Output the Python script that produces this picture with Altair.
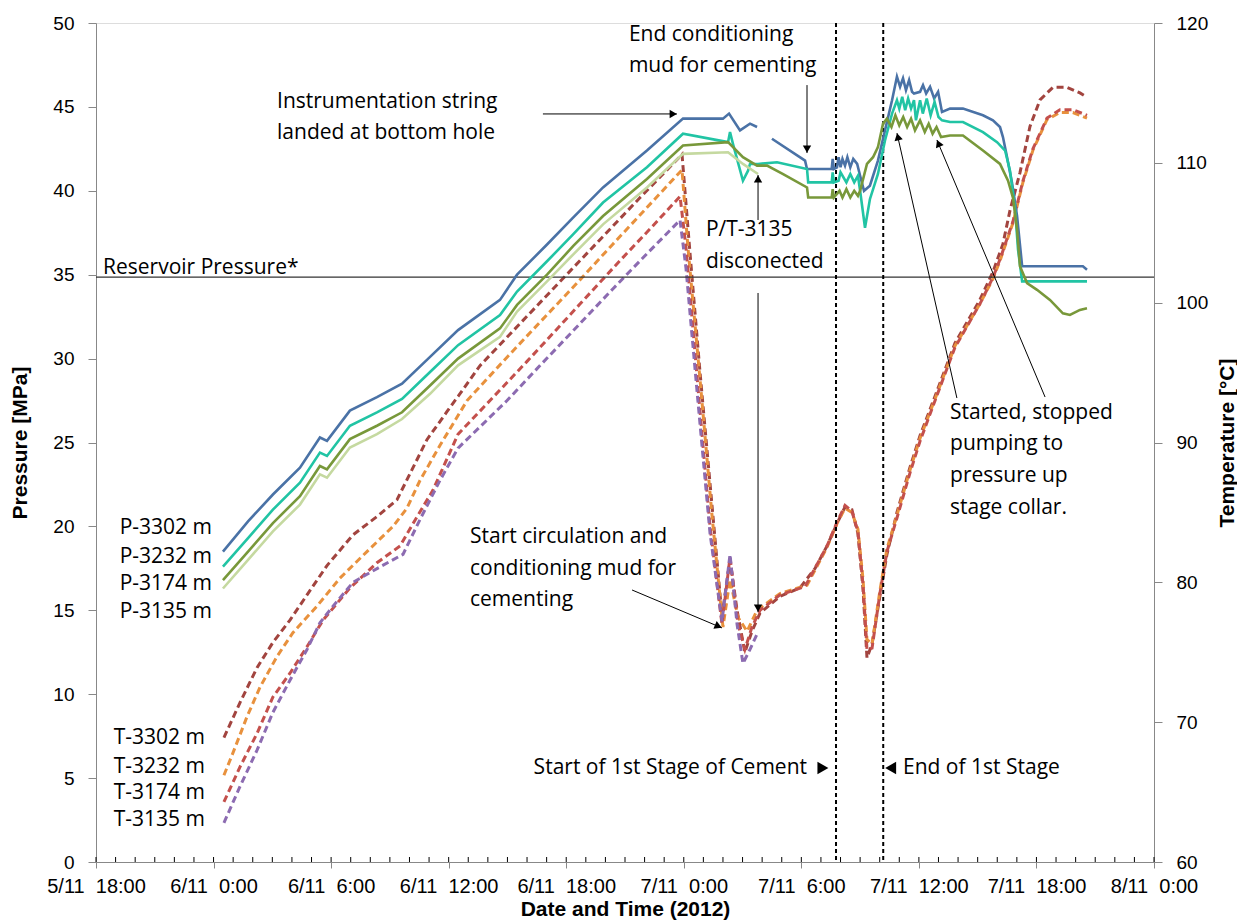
import altair as alt
import pandas as pd

# x values are hours since 5/11 18:00 (2012)
X_TICKS = list(range(0, 55, 6))
X_MINOR = list(range(0, 55, 1))
P_TICKS = list(range(0, 51, 5))
T_TICKS = list(range(60, 121, 10))

P_SERIES = ["P-3302 m", "P-3232 m", "P-3174 m", "P-3135 m"]
T_SERIES = ["T-3302 m", "T-3232 m", "T-3174 m", "T-3135 m"]
SERIES_COLORS = ["#4A72A6", "#21C4A4", "#78983A", "#C5D9A0",
                 "#A2443F", "#E8913D", "#C4504C", "#8C6BB1"]

# ---- pressure series (hours, MPa) ----
P3302_A = [(6.48, 18.5), (7.76, 20.3), (9.03, 21.9), (10.41, 23.5), (11.43, 25.3), (11.79, 25.1),
           (12.96, 26.9), (14.34, 27.7), (15.62, 28.5), (17.05, 30.1), (18.48, 31.7), (20.62, 33.5),
           (21.49, 35.0), (23.02, 36.8), (24.35, 38.4), (25.88, 40.2), (28.12, 42.4), (29.96, 44.3),
           (32.00, 44.3), (32.31, 44.6), (32.87, 43.6), (33.38, 44.0), (33.74, 43.8)]
P3302_B = [(34.50, 43.1), (36.19, 41.8), (36.29, 41.3), (37.55, 41.3), (37.60, 41.9), (37.66, 41.3),
           (37.82, 41.4), (37.90, 42.0), (38.00, 41.4), (38.10, 41.9), (38.23, 41.5), (38.35, 42.0),
           (38.50, 41.4), (38.65, 41.9), (38.85, 41.6), (39.00, 40.9), (39.20, 40.0), (39.50, 40.3),
           (39.91, 41.8), (40.27, 43.6), (40.63, 45.4), (40.88, 46.8), (41.04, 46.2), (41.19, 46.7),
           (41.34, 46.0), (41.50, 46.6), (41.65, 45.9), (41.75, 45.8), (42.06, 45.9), (42.21, 46.3),
           (42.37, 45.8), (42.57, 46.2), (42.78, 45.5), (42.98, 45.9), (43.18, 44.7), (43.59, 44.9),
           (44.25, 44.9), (45.27, 44.5), (45.78, 44.2), (46.14, 43.8), (46.29, 43.2), (46.50, 42.0),
           (46.75, 40.5), (47.01, 38.5), (47.27, 35.5), (50.37, 35.5), (50.58, 35.3)]
P3232 = [(6.48, 17.6), (7.76, 19.3), (9.03, 21.0), (10.41, 22.6), (11.43, 24.4), (11.79, 24.2),
         (12.96, 26.0), (14.34, 26.8), (15.62, 27.6), (17.05, 29.2), (18.48, 30.8), (20.62, 32.6),
         (21.49, 34.0), (23.02, 35.8), (24.35, 37.4), (25.88, 39.3), (28.12, 41.4), (29.96, 43.4),
         (32.26, 42.9), (32.36, 43.5), (32.51, 42.8), (33.02, 40.6), (33.28, 41.2), (33.38, 41.6),
         (33.79, 41.6), (34.76, 41.7), (36.29, 41.3), (36.35, 40.5), (37.55, 40.5), (37.60, 41.1),
         (37.66, 40.5), (37.90, 40.6), (38.00, 41.1), (38.30, 40.5), (38.50, 41.0), (38.70, 40.5),
         (38.89, 40.9), (39.00, 40.0), (39.25, 37.8), (39.50, 39.5), (39.91, 41.0), (40.27, 43.0),
         (40.63, 44.6), (40.88, 45.4), (41.00, 44.9), (41.15, 45.6), (41.30, 44.8), (41.45, 45.5),
         (41.60, 44.9), (41.75, 45.4), (41.85, 44.2), (42.06, 45.4), (42.20, 44.6), (42.40, 45.5),
         (42.60, 44.5), (42.80, 45.3), (43.00, 44.4), (43.18, 44.2), (43.59, 44.1), (44.25, 44.1),
         (45.27, 43.5), (45.99, 42.9), (46.40, 42.4), (46.65, 41.2), (46.91, 38.9), (47.06, 36.5),
         (47.27, 34.6), (50.58, 34.6)]
P3174 = [(6.48, 16.8), (7.76, 18.5), (9.03, 20.2), (10.41, 21.8), (11.43, 23.6), (11.79, 23.4),
         (12.96, 25.2), (14.34, 26.0), (15.62, 26.8), (17.05, 28.4), (18.48, 30.0), (20.62, 31.8),
         (21.49, 33.2), (23.02, 35.0), (24.35, 36.7), (25.88, 38.5), (28.12, 40.7), (29.96, 42.7),
         (32.26, 42.9), (33.02, 42.0), (33.74, 41.5), (34.25, 41.5), (35.07, 41.0), (36.29, 40.2),
         (36.35, 39.6), (37.55, 39.6), (37.60, 40.1), (37.66, 39.6), (37.95, 40.0), (38.10, 39.6),
         (38.30, 40.1), (38.50, 39.6), (38.70, 40.0), (38.89, 39.7), (39.00, 40.0), (39.35, 41.6),
         (39.66, 42.0), (39.91, 42.6), (40.17, 44.0), (40.37, 44.3), (40.60, 43.8), (40.80, 44.5),
         (41.00, 43.9), (41.20, 44.4), (41.40, 43.8), (41.60, 44.3), (41.80, 43.6), (42.06, 44.2),
         (42.30, 43.5), (42.50, 44.0), (42.70, 43.4), (42.90, 43.8), (43.13, 43.2), (43.59, 43.3),
         (44.25, 43.3), (45.27, 42.4), (46.14, 41.6), (46.55, 40.6), (46.80, 39.6), (47.01, 37.7),
         (47.16, 35.5), (47.52, 34.5), (48.03, 34.1), (48.69, 33.5), (49.35, 32.7), (49.71, 32.6),
         (50.22, 32.9), (50.58, 33.0)]
P3135 = [(6.48, 16.3), (7.76, 18.0), (9.03, 19.7), (10.41, 21.3), (11.43, 23.1), (11.79, 22.9),
         (12.96, 24.7), (14.34, 25.5), (15.62, 26.4), (17.05, 27.9), (18.48, 29.6), (20.62, 31.3),
         (21.49, 32.8), (23.02, 34.6), (24.35, 36.2), (25.88, 38.0), (28.12, 40.2), (29.96, 42.2),
         (32.26, 42.3), (33.02, 41.6), (33.79, 41.0)]

# ---- temperature series (hours, degC) ----
T3302 = [(6.53, 68.9), (7.35, 71.4), (8.22, 73.9), (9.03, 75.7), (9.90, 77.3), (10.77, 79.1),
         (11.79, 81.2), (13.12, 83.4), (14.34, 84.7), (15.36, 85.9), (16.18, 88.2), (16.89, 90.2),
         (17.91, 92.2), (18.48, 93.3), (19.60, 95.5), (21.64, 98.5), (23.68, 101.5), (25.72, 104.5),
         (27.76, 107.5), (29.91, 110.6), (30.32, 103.5), (30.83, 95.0), (31.44, 85.5), (31.95, 77.6),
         (32.36, 81.6), (32.72, 78.0), (33.12, 75.0), (33.48, 76.5), (33.89, 77.8), (34.91, 79.0),
         (35.93, 79.6), (36.70, 81.0), (37.31, 82.6), (37.82, 84.2), (38.23, 85.4), (38.58, 85.2),
         (38.89, 83.5), (39.15, 79.5), (39.35, 74.6), (39.61, 75.6), (40.01, 79.0), (40.37, 82.0),
         (40.88, 85.0), (41.54, 88.2), (42.06, 90.5), (42.93, 93.7), (43.84, 97.1), (45.11, 100.2),
         (45.78, 102.2), (46.29, 104.2), (46.65, 106.6), (47.16, 109.3), (47.67, 112.6), (48.18, 114.5),
         (48.84, 115.4), (49.56, 115.4), (50.22, 115.0), (50.58, 114.7)]
T3232 = [(6.53, 66.2), (6.99, 67.8), (7.71, 70.4), (8.37, 72.5), (9.24, 74.7), (10.05, 76.4),
         (11.28, 78.3), (12.45, 80.3), (13.83, 82.2), (15.16, 84.0), (15.87, 85.3), (16.54, 87.3),
         (17.56, 89.8), (18.94, 93.0), (20.98, 96.1), (22.66, 98.6), (24.35, 101.1), (26.39, 104.2),
         (28.12, 106.8), (29.91, 109.5), (30.21, 104.0), (30.83, 94.5), (31.44, 84.8), (32.00, 76.8),
         (32.36, 80.2), (32.77, 77.5), (33.23, 76.5), (33.74, 78.0), (34.91, 79.2), (36.29, 79.8),
         (37.31, 82.5), (37.82, 84.2), (38.23, 85.3), (38.58, 85.0), (38.89, 83.8), (39.15, 80.2),
         (39.35, 75.9), (39.61, 75.6), (40.01, 79.4), (40.37, 82.4), (40.88, 84.8), (41.54, 88.0),
         (42.06, 90.3), (42.93, 93.5), (43.84, 96.9), (45.11, 99.9), (45.78, 101.7), (46.14, 103.0),
         (46.80, 105.7), (47.31, 108.6), (47.82, 110.9), (48.54, 113.1), (49.20, 113.6), (49.86, 113.6),
         (50.58, 113.2)]
T3174 = [(6.53, 64.3), (7.35, 66.8), (8.22, 69.2), (9.03, 71.8), (9.90, 73.5), (10.77, 75.4),
         (11.59, 77.3), (12.96, 79.6), (14.34, 81.4), (15.52, 82.6), (16.18, 84.2), (17.20, 86.6),
         (18.48, 90.6), (20.11, 93.0), (22.00, 95.8), (23.32, 97.8), (24.70, 99.9), (26.74, 103.0),
         (28.43, 105.5), (29.81, 107.6), (30.11, 104.0), (30.72, 94.0), (31.34, 84.0), (31.95, 77.0),
         (32.36, 81.8), (32.77, 77.0), (33.12, 75.2), (33.48, 76.8), (33.89, 78.0), (34.91, 79.1),
         (36.19, 79.7), (37.31, 82.6), (37.82, 84.3), (38.23, 85.5), (38.58, 85.1), (38.89, 83.6),
         (39.15, 79.8), (39.35, 75.2), (39.61, 75.3), (40.01, 79.2), (40.37, 82.2), (40.88, 84.6),
         (41.54, 87.8), (42.06, 90.1), (42.93, 93.4), (43.84, 96.8), (45.11, 99.9), (45.78, 101.8),
         (46.14, 103.1), (46.80, 105.8), (47.31, 108.7), (47.82, 111.0), (48.54, 113.2), (49.20, 113.8),
         (49.86, 113.8), (50.58, 113.4)]
T3135 = [(6.53, 62.8), (7.35, 65.4), (8.22, 68.0), (9.03, 70.7), (9.90, 73.0), (10.77, 75.2),
         (11.43, 77.1), (12.10, 78.3), (13.12, 80.0), (14.49, 81.1), (15.67, 82.0), (16.54, 84.5),
         (17.56, 87.3), (18.48, 89.6), (20.98, 93.0), (22.66, 95.5), (24.70, 98.5), (26.39, 101.0),
         (28.12, 103.5), (29.81, 105.9), (30.11, 102.5), (30.72, 93.0), (31.34, 83.5), (31.95, 77.2),
         (32.36, 82.0), (32.72, 77.0), (33.02, 74.2), (33.38, 75.2), (33.74, 76.3)]

RESERVOIR_P = 34.85
STAGE_START_H = 37.77
STAGE_END_H = 40.18

# ---- annotations (hours, MPa) ----
NOTE_LEFT = [
    ("Reservoir  Pressure*", 0.36, 35.40),
    ("Instrumentation  string", 9.24, 45.29),
    ("landed  at  bottom  hole", 9.24, 43.44),
    ("End  conditioning", 27.2, 49.28),
    ("mud  for  cementing", 27.2, 47.44),
    ("P/T-3135", 31.13, 37.66),
    ("disconected", 31.13, 35.76),
    ("Start  circulation  and", 19.09, 19.37),
    ("conditioning  mud  for", 19.09, 17.46),
    ("cementing", 19.09, 15.61),
    ("Started,  stopped", 43.59, 26.76),
    ("pumping  to", 43.59, 24.91),
    ("pressure  up", 43.59, 23.00),
    ("stage  collar.", 43.59, 21.10),
    ("End  of  1st  Stage", 41.19, 5.60),
]
NOTE_RIGHT = [
    ("Start  of  1st  Stage  of  Cement", 36.29, 5.60),
]
SERIES_LABELS = [
    ("P-3302 m", 5.92, 19.90), ("P-3232 m", 5.92, 18.18), ("P-3174 m", 5.92, 16.57), ("P-3135 m", 5.92, 14.90),
    ("T-3302 m", 5.56, 7.39), ("T-3232 m", 5.56, 5.66), ("T-3174 m", 5.56, 4.11), ("T-3135 m", 5.56, 2.50),
]
ARROWS = [  # h, v, h2, v2
    (22.81, 44.58, 29.65, 44.58),
    (36.29, 46.30, 36.29, 42.25),
    (33.79, 38.26, 33.79, 40.94),
    (33.79, 33.91, 33.79, 14.90),
    (27.36, 16.21, 31.95, 13.95),
    (43.94, 27.65, 40.88, 43.44),
    (48.44, 27.71, 42.92, 43.03),
]
ARROW_HEADS = [  # h, v, angle
    (29.40, 44.58, 90), (36.29, 42.55, 180), (33.79, 40.64, 0), (33.79, 15.20, 180),
    (31.71, 14.07, 113), (40.94, 43.15, 347), (43.02, 42.76, 337),
]
STAGE_MARKS = [(37.10, 5.60, "triangle-right"), (40.56, 5.60, "triangle-left")]

# ---- build tables ----
rows = []
for name, seg, pts in [("P-3302 m", "a", P3302_A), ("P-3302 m", "b", P3302_B), ("P-3232 m", "a", P3232),
                       ("P-3174 m", "a", P3174), ("P-3135 m", "a", P3135)]:
    for h, v in pts:
        rows.append({"series": name, "seg": name + seg, "h": h, "v": v})
p_df = pd.DataFrame(rows)
rows = []
for name, pts in [("T-3302 m", T3302), ("T-3232 m", T3232), ("T-3174 m", T3174), ("T-3135 m", T3135)]:
    for h, v in pts:
        rows.append({"series": name, "seg": name, "h": h, "v": v})
t_df = pd.DataFrame(rows)

FONT = "Open Sans"
NOTE_SIZE = 21
W, H = 1058, 839

x_scale = alt.Scale(domain=[0, 54], nice=False, zero=False)
x_axis = alt.Axis(values=X_TICKS, title="Date and Time (2012)",
                  labelExpr="(5 + floor((datum.value + 18) / 24)) + '/11\u00a0\u00a0' + ((datum.value + 18) % 24) + ':00'",
                  tickSize=6, labelPadding=8, titlePadding=2, labelFlush=False, labelOverlap=False,
                  labelFontSize=20, titleFontSize=21, grid=False)
X = alt.X("h:Q", scale=x_scale, axis=x_axis)
p_scale = alt.Scale(domain=[0, 50], nice=False, zero=False)
p_axis = alt.Axis(values=P_TICKS, orient="left", title="Pressure [MPa]", tickSize=8, labelPadding=14,
                  titlePadding=22, labelFontSize=19, titleFontSize=21, grid=False)
YP = alt.Y("v:Q", scale=p_scale, axis=p_axis)
t_scale = alt.Scale(domain=[60, 120], nice=False, zero=False)
t_axis = alt.Axis(values=T_TICKS, orient="right", title="Temperature [°C]", tickSize=8, labelPadding=14,
                  titlePadding=30, labelFontSize=19, titleFontSize=21, titleAngle=270, grid=False)
YT = alt.Y("v:Q", scale=t_scale, axis=t_axis)
color = alt.Color("series:N", scale=alt.Scale(domain=P_SERIES + T_SERIES, range=SERIES_COLORS), legend=None)

t_lines = alt.Chart(t_df).mark_line(strokeWidth=3, strokeDash=[7, 4]).encode(
    x=X, y=YT, color=color, detail="seg:N")

p_lines = alt.Chart(p_df).mark_line(strokeWidth=2.6).encode(
    x=X, y=YP, color=color, detail="seg:N")

res_rule = alt.Chart(pd.DataFrame({"v": [RESERVOIR_P]})).mark_rule(color="#333333", strokeWidth=1.2).encode(
    y=YP, x=alt.value(0), x2=alt.value(W))

stage_rules = alt.Chart(pd.DataFrame({"h": [STAGE_START_H, STAGE_END_H]})).mark_rule(
    color="black", strokeWidth=2, strokeDash=[4, 3]).encode(x=X, y=alt.value(0), y2=alt.value(H))

minor_ticks = alt.Chart(pd.DataFrame({"h": X_MINOR})).mark_rule(color="black", strokeWidth=1).encode(
    x=X, y=alt.value(H), y2=alt.value(H - 5))

arrows_df = pd.DataFrame(ARROWS, columns=["h", "v", "h2", "v2"])
arrow_lines = alt.Chart(arrows_df).mark_rule(color="black", strokeWidth=1).encode(
    x=X, y=YP, x2="h2:Q", y2="v2:Q")
heads_df = pd.DataFrame(ARROW_HEADS, columns=["h", "v", "angle"])
arrow_heads = alt.Chart(heads_df).mark_point(shape="triangle", filled=True, color="black", size=70, opacity=1).encode(
    x=X, y=YP, angle=alt.Angle("angle:Q", scale=None))

stage_df = pd.DataFrame(STAGE_MARKS, columns=["h", "v", "shape"])
stage_marks = alt.Chart(stage_df).mark_point(filled=True, color="black", size=160, opacity=1).encode(
    x=X, y=YP, shape=alt.Shape("shape:N", scale=None))

left_df = pd.DataFrame(NOTE_LEFT, columns=["text", "h", "v"])
notes_left = alt.Chart(left_df).mark_text(align="left", baseline="middle", font=FONT, fontSize=NOTE_SIZE,
                                          color="black").encode(x=X, y=YP, text="text:N")
right_df = pd.DataFrame(NOTE_RIGHT, columns=["text", "h", "v"])
notes_right = alt.Chart(right_df).mark_text(align="right", baseline="middle", font=FONT, fontSize=NOTE_SIZE,
                                            color="black").encode(x=X, y=YP, text="text:N")
lab_df = pd.DataFrame(SERIES_LABELS, columns=["text", "h", "v"])
series_labels = alt.Chart(lab_df).mark_text(align="right", baseline="middle", font=FONT, fontSize=21,
                                            color="black").encode(x=X, y=YP, text="text:N")

p_layer = alt.layer(res_rule, stage_rules, p_lines, minor_ticks, arrow_lines, arrow_heads, stage_marks,
                    notes_left, notes_right, series_labels)

chart = alt.layer(t_lines, p_layer).resolve_scale(y="independent").properties(
    width=W, height=H,
    padding={"left": 88, "top": 15, "right": 83, "bottom": 60},
    autosize=alt.AutoSizeParams(type="none"),
).configure_view(stroke="black", strokeWidth=1).configure_axis(
    grid=False, domainColor="black", tickColor="black", labelColor="black", titleColor="black",
    labelFont=FONT, titleFont=FONT, titleFontWeight="bold", domainWidth=1, tickWidth=1,
).configure(background="white")

chart.save("out.html", embed_options={"renderer": "svg", "actions": False})
